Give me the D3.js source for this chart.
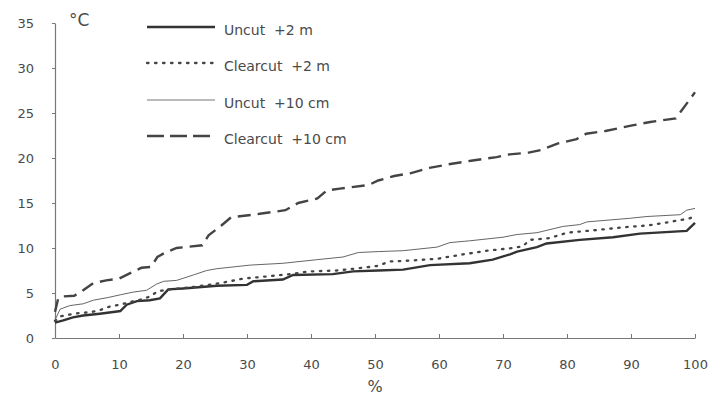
<!DOCTYPE html>
<html>
<head>
<meta charset="utf-8">
<script src="https://cdn.jsdelivr.net/npm/d3@7"></script>
<style>
  body { margin: 0; background: #fff; }
  text { font-family: "DejaVu Sans", sans-serif; fill: #4a4a4a; }
</style>
</head>
<body>
<div id="chart"></div>
<script>
// cumulative percent (x) vs temperature (y)
const uncut2m = [[0,1.7],[1.3,1.95],[2.8,2.3],[4.4,2.5],[7,2.7],[9.7,2.95],[10.2,3.0],[11.2,3.7],[12.8,4.1],[14.8,4.2],[16.4,4.4],[17.7,5.4],[20,5.5],[25.3,5.8],[30,5.9],[31,6.3],[35.6,6.5],[37.2,7.0],[43.4,7.1],[46.6,7.4],[50.5,7.5],[54.4,7.6],[58.6,8.1],[64.8,8.3],[68.4,8.7],[71.1,9.3],[72.2,9.6],[75.3,10.1],[76.8,10.5],[82,10.9],[87.2,11.2],[91.4,11.6],[98.7,11.9],[100,12.8]];
const clearcut2m = [[0,1.9],[0.8,2.4],[2.3,2.6],[3.9,2.8],[5.5,2.85],[7,3.1],[8.6,3.5],[10.2,3.7],[11.7,4.0],[13.3,4.25],[14.8,4.6],[16.1,5.2],[18,5.4],[22,5.7],[25.8,6.1],[27.3,6.3],[29.4,6.6],[32.5,6.8],[36.7,7.1],[39.8,7.4],[44,7.5],[48.1,7.8],[50.3,8.0],[52.3,8.5],[55.5,8.6],[59.7,8.8],[63.8,9.3],[67.5,9.7],[71.6,10.0],[73.1,10.2],[74.2,10.9],[77.3,11.1],[80,11.7],[84.7,12.0],[88.8,12.3],[92.5,12.5],[96.1,12.9],[99.2,13.3],[100,13.6]];
const uncut10cm = [[0,2.0],[0.8,3.2],[2.3,3.6],[4.4,3.8],[6,4.2],[8.3,4.5],[10.2,4.8],[12.2,5.1],[14.3,5.3],[15.9,6.0],[17,6.3],[19,6.4],[21.6,7.0],[23.7,7.5],[25.3,7.7],[30.5,8.1],[35.6,8.3],[40.9,8.7],[45,9.0],[47.4,9.5],[50.5,9.6],[54.4,9.7],[59.7,10.1],[61.7,10.6],[64.8,10.8],[70,11.2],[72.2,11.5],[75.3,11.7],[79.4,12.4],[82,12.6],[83.1,12.9],[89.8,13.3],[92.5,13.5],[97.7,13.7],[98.7,14.2],[100,14.4]];
const clearcut10cm = [[0,2.9],[0.5,4.4],[1,4.6],[3,4.7],[4,5.1],[6,6.1],[8,6.4],[10,6.6],[12,7.3],[13.5,7.8],[15,7.9],[16,9.0],[17,9.4],[19,10.0],[23,10.3],[24,11.4],[26,12.5],[27.5,13.4],[32,13.8],[36,14.2],[38,15.0],[41,15.5],[42.5,16.4],[44.5,16.6],[49,17.0],[50.5,17.5],[53,18.0],[55.5,18.3],[58.5,18.9],[61.5,19.3],[65,19.7],[69,20.1],[71,20.4],[74,20.6],[76,20.9],[78.5,21.6],[81.5,22.1],[83,22.7],[86,23.0],[90,23.6],[93,24.0],[97,24.4],[100,27.3]];

const seriesNames = ['Uncut  +2 m', 'Clearcut  +2 m', 'Uncut  +10 cm', 'Clearcut  +10 cm'];
const xTicks = [0, 10, 20, 30, 40, 50, 60, 70, 80, 90, 100];
const yTicks = [0, 5, 10, 15, 20, 25, 30, 35];

const WIDTH = 711;
const HEIGHT = 396;
const MARGIN = { left: 55, right: 16, top: 23, bottom: 58 };

const STYLES = [
    { color: '#333', width: 2.4, dash: null },
    { color: '#444', width: 2.3, dash: '1.5,6.5' },
    { color: '#666', width: 1, dash: null },
    { color: '#444', width: 2.4, dash: '13,7' }
];

const svg = d3.select('#chart')
    .append('svg')
    .attr('width', WIDTH)
    .attr('height', HEIGHT);

const x = d3.scaleLinear()
    .domain([0, 100])
    .range([MARGIN.left, WIDTH - MARGIN.right]);

const y = d3.scaleLinear()
    .domain([0, 35])
    .range([HEIGHT - MARGIN.bottom, MARGIN.top]);

// axes
const xAxis = svg.append('g')
    .attr('transform', `translate(0,${y(0)})`)
    .call(d3.axisBottom(x).tickValues(xTicks).tickSize(-4).tickPadding(22).tickSizeOuter(0));

const yAxis = svg.append('g')
    .attr('transform', `translate(${x(0)},0)`)
    .call(d3.axisLeft(y).tickValues(yTicks).tickSize(3).tickPadding(18).tickSizeOuter(0));

[xAxis, yAxis].forEach(g => {
    g.select('.domain').attr('stroke', '#777').attr('stroke-width', 1.2);
    g.selectAll('.tick line').attr('stroke', '#777');
    g.selectAll('.tick text')
        .style('font-family', '"DejaVu Sans", sans-serif')
        .style('font-size', '13px')
        .attr('fill', '#4a4a4a');
});
xAxis.selectAll('.tick text').attr('dy', '0.71em');

// lines
const line = d3.line()
    .x(d => x(d[0]))
    .y(d => y(d[1]));

[uncut2m, clearcut2m, uncut10cm, clearcut10cm].forEach((data, i) => {
    const s = STYLES[i];
    svg.append('path')
        .datum(data)
        .attr('fill', 'none')
        .attr('stroke', s.color)
        .attr('stroke-width', s.width)
        .attr('stroke-linecap', i === 1 ? 'round' : 'butt')
        .attr('stroke-dasharray', s.dash)
        .attr('d', line);
});

// legend
const legend = svg.append('g');
const legendY = [27, 63, 100, 136];
seriesNames.forEach((name, i) => {
    const s = STYLES[i];
    legend.append('line')
        .attr('x1', 147).attr('x2', 215)
        .attr('y1', legendY[i]).attr('y2', legendY[i])
        .attr('stroke', s.color)
        .attr('stroke-width', i === 2 ? 0.9 : s.width)
        .attr('stroke-linecap', i === 1 ? 'round' : 'butt')
        .attr('stroke-dasharray', i === 3 ? '17,6' : s.dash);
    legend.append('text')
        .attr('x', 224)
        .attr('y', legendY[i] + 3)
        .attr('dy', '0.35em')
        .style('font-size', '14px')
        .style('white-space', 'pre')
        .text(name);
});

// axis titles
svg.append('text')
    .attr('x', 69)
    .attr('y', 20)
    .attr('dy', '0.35em')
    .style('font-size', '17px')
    .text('°C');

svg.append('text')
    .attr('x', x(50))
    .attr('y', 387)
    .attr('dy', '0.3em')
    .style('text-anchor', 'middle')
    .style('font-size', '16px')
    .text('%');
</script>
</body>
</html>
